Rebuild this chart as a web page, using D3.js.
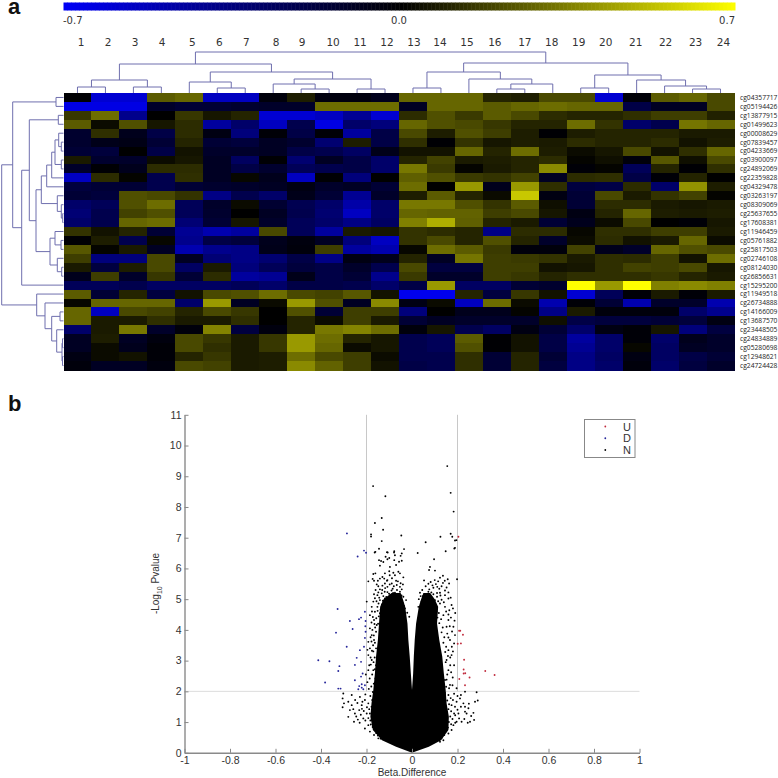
<!DOCTYPE html>
<html><head><meta charset="utf-8">
<style>html,body{margin:0;padding:0;background:#fff}svg{display:block}</style>
<script src="https://cdn.jsdelivr.net/npm/d3@7"></script></head>
<body><svg id="c" width="778" height="778"></svg>
<script>
const columnLabels=["1","2","3","4","5","6","7","8","9","10","11","12","13","14","15","16","17","18","19","20","21","22","23","24"];
const rowLabels=["cg04357717","cg05194426","cg13877915","cg01499623","cg00008629","cg07839457","cg04233669","cg03900097","cg24892069","cg22359828","cg04329478","cg03263197","cg08309069","cg25637655","cg17608381","cg11946459","cg05761882","cg25817503","cg02746108","cg08124030","cg26856631","cg15295200","cg11949518","cg26734888","cg14166009","cg13687570","cg23448505","cg24834889","cg05280698","cg12948621","cg24724428"];
const heatValues=[
[-.01,-.6,-.6,.25,.28,-.55,-.55,-.03,.08,-.04,-.04,-.08,.28,.28,.28,.1,.08,.2,.2,-.6,-.02,.25,.28,.2],
[-.65,-.65,-.65,-.12,-.15,-.15,-.13,-.12,-.12,.3,.3,.3,-.1,.28,.28,.25,.28,.3,.28,.28,-.2,-.1,-.1,.2],
[.15,.3,-.4,0,.15,.06,.1,-.6,-.6,-.55,-.42,-.6,.12,.22,.16,.25,.2,.12,.1,.1,.13,.17,.17,.09],
[.25,.03,.22,.06,.12,-.45,-.3,-.55,-.22,-.65,-.3,-.35,.28,.22,.2,.15,.1,.1,.3,.14,-.3,-.22,.32,.28],
[-.13,.13,-.08,-.2,.12,-.05,-.35,-.02,-.2,-.02,-.45,-.2,.2,.08,.22,.17,.08,-.01,.08,.1,.1,.1,.07,.07],
[-.13,-.07,-.06,-.15,.1,-.15,-.17,-.1,-.13,-.32,.08,-.2,.13,-.01,.14,.06,.08,.07,.12,.1,.1,.12,.05,.08],
[-.15,-.17,0,-.2,.05,-.12,-.12,-.1,-.2,-.22,-.28,-.07,.05,.05,.28,.1,.3,.08,.03,.06,.2,.05,.13,.28],
[.07,-.13,-.12,.03,.06,-.1,-.27,-.01,-.32,-.1,-.2,-.3,.1,.18,.07,.08,.1,.12,.01,.04,-.03,.24,.04,.2],
[-.12,-.01,-.08,.12,.12,-.1,-.2,-.13,-.25,-.22,-.2,-.3,.33,.16,.01,.07,.1,.38,-.02,.01,-.25,.1,-.01,.13],
[-.55,.12,.01,-.22,.13,-.1,.02,-.08,-.55,-.01,-.35,0,.26,.22,.16,.14,.18,-.1,.12,.13,-.2,-.02,.1,0],
[-.18,-.15,-.15,-.22,-.15,-.13,-.12,-.1,-.05,-.12,-.1,-.15,.3,0,.42,-.08,.42,.13,-.18,-.2,.12,-.3,.4,.08],
[-.15,-.17,.22,.2,.14,-.38,-.22,-.3,-.07,-.15,-.42,-.12,.08,.25,.1,.03,.55,-.05,-.15,.2,.07,.14,.18,.01],
[-.3,-.25,.22,.3,-.25,-.12,.03,-.14,-.23,-.3,-.48,-.3,.33,.33,.22,.14,.25,.04,-.15,.12,.12,.07,.06,.07],
[-.33,-.22,.18,.22,-.25,-.13,0,-.1,-.22,-.32,-.55,-.3,.28,.27,.27,.17,.2,.06,-.05,.1,.28,.08,.07,.08],
[-.3,-.22,.28,.3,-.33,-.15,.06,-.12,-.25,-.3,-.38,-.28,.35,.48,.26,.1,.07,-.15,-.08,.03,.2,0,-.02,.06],
[.14,.05,.1,-.15,-.42,-.5,-.45,.2,-.25,-.45,.07,.06,.14,.12,.1,-.38,.12,.12,.02,.13,.13,.17,.17,.07],
[-.01,.08,-.22,.02,-.4,-.2,-.17,-.08,-.04,-.1,-.35,-.55,.14,.2,.1,.22,.1,-.12,.03,.12,.05,.07,.28,.03],
[.24,.01,.07,-.1,-.5,-.4,-.38,-.07,-.03,.17,-.45,-.5,.02,.3,.25,.16,-.03,-.03,.18,-.08,-.12,.28,.22,.2],
[.17,-.35,-.35,.2,-.1,-.33,-.38,-.32,-.2,-.38,-.05,-.08,.1,-.1,.32,.17,.16,.14,.07,.13,.12,.17,.05,.3],
[.07,-.18,.08,.2,-.28,.07,-.35,-.25,-.17,-.2,-.12,-.22,.2,-.18,-.18,.17,.17,.05,.06,.13,.18,.17,.2,.06],
[-.08,.17,-.12,.15,-.15,.12,-.45,-.42,-.07,-.2,-.15,-.4,.16,-.12,-.12,.17,.15,.1,.13,.13,.13,.15,.1,.07],
[-.25,-.25,-.22,-.28,-.28,-.28,-.25,-.3,-.2,-.2,-.22,-.3,-.2,.42,-.28,-.28,-.15,-.13,.7,.42,.7,.35,.38,.35],
[.25,-.15,.1,-.18,.05,.2,.22,.3,.2,.18,.24,.05,-.68,-.68,.1,-.18,.15,.05,-.6,-.25,-.02,.07,-.02,.07],
[.02,.28,.28,.28,-.3,.42,-.1,.03,.42,.22,-.1,.38,-.06,.03,-.55,.3,.03,-.5,-.02,-.15,-.5,-.12,-.12,-.5],
[.28,-.55,.2,.18,.1,.2,.15,0,.22,-.15,.17,.17,-.35,0,-.08,-.08,.01,-.38,.07,-.03,-.03,-.03,-.3,-.4],
[.28,.07,.07,.13,.07,.07,.13,0,.1,.03,.17,.07,-.15,-.1,-.12,-.12,-.12,.04,-.2,-.17,-.17,-.15,-.17,-.05],
[-.3,.07,.33,-.12,-.03,.36,-.18,-.04,.1,.33,.36,.3,-.03,.06,-.22,-.28,-.05,-.15,-.3,-.05,-.02,.06,-.35,-.18],
[-.1,.08,-.1,-.04,.2,.15,.07,.15,.42,.3,.1,.06,-.22,-.25,.25,-.01,.05,-.2,-.45,-.3,-.02,-.3,-.08,-.12],
[-.1,.03,-.08,-.02,.2,.13,.07,.15,.42,.28,.03,.06,-.22,-.25,.22,-.01,.05,-.2,-.42,-.3,.02,-.28,-.1,-.12],
[-.05,.03,.05,-.02,.1,.15,.07,.08,.3,.2,.17,.03,-.22,-.22,.13,-.15,.1,-.15,-.38,-.28,-.05,-.28,-.2,-.15],
[-.03,-.1,-.1,-.04,.2,.18,.07,.08,.38,.27,.17,.05,-.2,-.22,.13,-.15,.1,-.18,-.38,-.3,-.03,-.3,-.18,-.12]];
const colourStops=[-0.7,0,0.7];
// Dendrograms: [height,left,right], leaves are 1-based indexes
const columnTree=[41,[29,[13,[6,1,2],[6,3,4]],[21,[11,5,[5,6,7]],[14,[9,8,[4,9,10]],[4,11,12]]]],[30,[21,[5,13,14],[14,15,[9,[4,16,17],18]]],[18,[5,19,20],[13,21,[7,22,[4,23,24]]]]]];
const rowTree=[61.8,[50.8,[7.5,1,2],[41.8,[34.2,[5.2,3,4],[27.5,[22.2,[16.8,[11.8,[8.5,[4.8,5,[2.2,6,7]],[2.2,8,9]],10],11],[6.2,12,[2.2,13,[.8,14,15]]]],[13.5,[8.5,16,[2.5,17,18]],[6.2,19,[1.8,20,21]]]]],22]],[26.8,23,[18.5,24,[11.8,[3.5,25,26],[6.8,27,[1.5,[1,28,29],[1,30,31]]]]]]];

const xTicks=[-1,-0.8,-0.6,-0.4,-0.2,0,0.2,0.4,0.6,0.8,1];
const yTicks=[0,1,2,3,4,5,6,7,8,9,10,11];
// Solid part of the volcano: y, then left outer/inner and right inner/outer edge
const denseY=[0,.2,.41,.74,1.17,1.61,2.04,2.58,3.13,3.67,4.21,4.75,5.0,5.2];
const denseLeftOuter=[0,-.07,-.132,-.172,-.183,-.178,-.17,-.163,-.158,-.15,-.145,-.14,-.125,-.09];
const denseLeftInner=[0,0,0,0,0,0,0,-.005,-.01,-.016,-.02,-.03,-.04,-.05];
const denseRightInner=[0,0,0,0,0,0,0,.005,.008,.012,.018,.03,.04,.05];
const denseRightOuter=[0,.074,.128,.16,.162,.152,.148,.14,.133,.12,.11,.115,.10,.08];
const upPoints=[[.207,3.97],[.212,3.97],[.224,3.84],[.201,3.55],[.215,3.56],[.229,3.03],[.227,2.71],[.227,2.58],[.234,2.59],[.253,2.45],[.208,2.40],[.233,2.2],[.322,2.66],[.363,2.53],[.204,7.03]];
const downPoints=[[-.327,4.68],[-.273,4.29],[-.261,4.03],[-.334,3.91],[-.287,3.45],[-.412,3.01],[-.363,2.98],[-.319,2.82],[-.324,2.66],[-.382,2.29],[-.324,2.09],[-.314,2.09],[-.251,2.86],[-.243,3.09],[-.229,3.34],[-.211,3.45],[-.224,4.40],[-.233,4.35],[-.207,4.59],[-.204,4.29],[-.205,4.12],[-.204,3.94],[-.207,3.74],[-.224,2.96],[-.217,2.58],[-.224,2.48],[-.251,2.36],[-.221,2.23],[-.236,2.07],[-.221,2.12],[-.214,2.07],[-.207,2.2],[-.232,2.17],[-.286,7.14],[-.211,6.58],[-.202,6.51],[-.239,6.39]];
const nonSigPoints=[[.155,9.33],[-.171,8.68],[.170,8.46],[-.117,8.35],[.183,7.85],[-.133,7.64],[-.163,7.48],[-.127,7.26],[-.180,7.11],[-.180,7.04],[-.047,7.07],[.170,7.13],[.125,7.03],[.177,7.03],[.189,6.91],[.195,6.92],[-.133,6.89],[.060,6.85],[.186,6.65],[.189,6.67],[.148,6.56],[-.035,6.63],[-.045,6.49],[-.050,6.41],[-.078,6.56],[-.079,6.52],[-.075,6.43],[-.110,6.53],[-.107,6.52],[-.164,6.52],[-.161,6.54],[-.145,6.64],[.025,6.50],[.097,6.30],[.079,6.05],[.075,5.95],[.101,5.93],[.136,5.76],[.123,5.70],[.157,5.65],[.198,5.65],[.053,5.61],[.082,5.56],[.105,5.49],[.111,5.40],[.136,5.53],[.163,5.51],[.076,5.32],[.094,5.37],[.152,5.38],
[-.145,6.27],[-.136,6.24],[-.126,6.21],[-.141,6.09],[-.116,6.38],[-.108,6.30],[-.100,6.34],[-.078,6.27],[-.057,6.22],[-.045,6.25],[-.070,6.11],[-.097,6.05],[-.119,5.84],[-.100,5.91],[-.082,5.86],[-.170,5.82],[-.161,5.84],[-.173,5.66],[-.167,5.60],[-.192,5.58],[-.141,5.67],[-.122,5.67],[-.108,5.62],[-.075,5.78],[-.060,5.89],[-.053,5.84],[-.038,5.71],[-.070,5.60],[-.089,5.51],[-.119,5.51],[-.155,5.48],[-.141,5.32],[-.108,5.40],[-.067,5.46],[-.053,5.40],[-.045,5.32],[-.085,5.34],
[-.167,5.16],[-.152,5.13],[-.133,5.19],[-.108,5.23],[-.097,5.13],[-.075,5.21],[-.053,5.24],[-.119,5.02],[-.141,4.97],[-.170,4.92],[-.089,4.99],[-.060,5.02],[-.038,5.08],[-.026,4.97],[-.199,4.92],[-.152,4.75],[-.177,4.75],[-.163,4.59],[-.141,4.54],[-.108,4.81],[-.082,4.75],[-.053,4.81],[-.031,4.70],[-.021,4.56],[-.012,4.43],[-.185,4.48],[-.167,4.32],[-.155,4.16],[-.185,4.05],[-.177,3.83],[-.192,3.61],[-.185,3.40],[-.167,3.67],[-.158,3.40],[-.192,3.18],[-.177,3.02],[-.158,2.85],[-.170,2.69],[-.192,2.69],[-.148,2.48],
[.035,5.21],[.057,5.08],[.072,5.24],[.094,5.16],[.123,5.21],[.145,5.13],[.160,5.02],[.174,4.81],[.164,4.64],[.145,4.75],[.123,4.86],[.101,4.97],[.086,4.81],[.064,4.84],[.042,4.92],[.028,4.75],[.108,4.59],[.138,4.48],[.160,4.32],[.182,4.10],[.189,3.83],[.152,4.10],[.167,3.67],[.185,3.56],[.160,3.34],[.174,3.18],[.152,3.02],[.185,2.85],[.160,2.69],[.179,2.45],[.145,2.37],[.167,2.21],[.196,2.10],
[-.302,1.93],[-.305,1.77],[-.299,1.61],[-.305,1.48],[-.280,1.66],[-.265,1.55],[-.273,1.39],[-.280,1.17],[-.251,1.28],[-.255,1.01],[-.232,1.39],[-.221,1.55],[-.207,1.72],[-.229,1.82],[-.265,1.88],[-.192,1.61],[-.199,1.28],[-.214,1.12],[-.177,1.07],[-.192,.90],[-.207,.79],[-.185,.69],[-.167,.58],[-.148,.47],
[.284,1.97],[.289,1.70],[.277,1.66],[.248,1.45],[.270,1.30],[.255,1.01],[.273,1.07],[.233,1.34],[.226,1.61],[.211,1.77],[.240,1.28],[.204,1.28],[.196,1.01],[.218,1.01],[.182,.90],[.174,.74],[.160,.63],[.138,.41],[.123,.36],[.233,1.50],[.189,1.50],[.196,1.66],[.174,1.55],[.233,1.99],
[-.182,3.1],[-.176,3.32],[-.171,3.5],[-.163,3.58],[-.168,3.82],[-.158,3.94],[-.162,4.08],[-.149,4.2],[-.157,4.38],[-.146,4.44],[-.151,4.62],[-.138,4.66],[-.147,4.86],[-.132,4.83],[-.128,4.95],[-.115,4.9],[-.105,4.96],[-.094,4.88],[-.086,5.06],[-.076,4.93],[-.069,5.1],[-.064,4.88],[-.052,4.95],[-.046,5.12],[-.041,4.86],[-.035,4.78],[-.144,5.05],[-.126,5.1],[-.113,5.07],[-.101,5.18],[-.09,5.28],[-.083,5.2],[-.066,5.3],[-.058,5.14],[-.131,5.3],[-.12,5.24],[-.148,5.22],[-.163,5.03],[-.156,4.93],[-.176,4.6],[-.172,4.42],[-.178,4.24],[-.165,4.19],[-.174,4.0],[-.182,3.76],[-.17,3.3],[-.164,3.1],[-.169,2.95],[-.181,2.87],[-.163,2.72],[-.175,2.55],[-.186,2.42],[-.161,2.42],[-.168,2.25],[-.179,2.16],[-.19,2.08],[-.172,1.98],[-.183,1.85],[-.175,1.72],[-.188,1.42],[-.178,1.5],[-.198,1.48],[-.185,1.28],[-.175,1.32],[-.192,1.13],[-.183,1.05],[-.181,.92],[-.173,.84],[-.165,.76],[-.157,.64],[-.15,.56],[-.138,.46],[-.212,1.36],[-.225,1.24],[-.205,1.05],[-.238,1.08],[-.218,1.66],[-.205,1.9],[-.196,2.3],[-.203,2.55],[-.188,2.85],[-.196,3.35],[-.178,3.62],
[.158,3.15],[.146,3.28],[.15,3.45],[.138,3.58],[.142,3.76],[.155,3.88],[.13,3.92],[.135,4.08],[.12,4.22],[.128,4.35],[.112,4.4],[.118,4.55],[.098,4.52],[.103,4.72],[.086,4.62],[.09,4.9],[.075,4.78],[.068,4.95],[.055,4.72],[.049,4.87],[.04,4.7],[.047,5.1],[.062,5.15],[.08,5.05],[.085,5.22],[.11,5.08],[.115,4.93],[.13,4.98],[.14,4.9],[.15,4.6],[.16,4.5],[.171,4.4],[.166,4.12],[.176,3.95],[.16,3.75],[.175,3.45],[.168,3.1],[.148,2.95],[.168,2.85],[.155,2.55],[.172,2.62],[.152,2.38],[.163,2.1],[.15,2.15],[.178,2.2],[.145,1.95],[.16,1.88],[.17,1.78],[.185,1.92],[.155,1.7],[.163,1.58],[.18,1.72],[.16,1.42],[.172,1.35],[.185,1.28],[.168,1.18],[.178,1.1],[.162,1.0],[.172,.93],[.158,.82],[.15,.7],[.142,.58],[.13,.48],[.2,1.4],[.215,1.5],[.19,1.22],[.207,1.12],[.19,.98],[.2,1.85],[.215,1.88],
[-.16,5.3],[-.148,5.42],[-.13,5.44],[-.118,5.36],[-.098,5.48],[-.08,5.42],[-.062,5.58],[-.05,5.52],[-.11,5.6],[-.13,5.72],[-.088,5.68],[-.15,5.6],[-.098,5.78],[-.04,5.48],[.045,5.3],[.06,5.42],[.09,5.45],[.12,5.34],[.13,5.42],[.145,5.28],[.16,5.22],[.072,5.5],[.1,5.62],[.115,5.58],[.144,5.6],[.03,5.0],[.038,5.1],[.11,5.2],[.125,5.12],[.17,5.05],[.18,4.7],[.19,4.55],[.187,4.3],[.18,3.3],
[-.24,1.62],[-.25,1.72],[-.258,1.42],[-.245,1.18],[-.22,1.43],[-.23,.98],[.25,1.6],[.26,1.2],[.245,.98],[.23,1.1]];
const legendLabels=["U","D","N"];

const svg=d3.select("#c");
const HEAT={l:63.5,r:734.5,t:93,b:370};
const x=d3.scaleBand().domain(d3.range(24)).range([HEAT.l,HEAT.r]);
const y=d3.scaleBand().domain(d3.range(31)).range([HEAT.t,HEAT.b]);
const colour=d3.scaleLinear().domain(colourStops).range(["#0000f5","#000000","#ffff00"]);

// colour bar
const barX=d3.scaleLinear().domain([-0.7,0.7]).range([63.5,735]);
svg.append("g").selectAll("rect").data(d3.range(-0.7,0.7,1.4/168)).join("rect")
 .attr("x",d=>barX(d)).attr("y",2.5).attr("width",4.5).attr("height",8).attr("fill",d=>colour(d));
const numberFont="'DejaVu Sans',sans-serif";
[["-0.7",63,"start"],["0.0",399,"middle"],["0.7",735,"end"]].forEach(([t,px,a])=>
 svg.append("text").attr("x",px).attr("y",24).attr("text-anchor",a).attr("font-family",numberFont).attr("font-size",10).attr("fill","#333").text(t));

// column numbers (drawn slightly off the column centres in the reference)
const labelNudge=[3.5,2.6,1.6,.7,3,2,1,3,1,4,3,2,1,-1,-2,-2,0,-1,-2,-3,-1,1,3,3];
svg.append("g").selectAll("text").data(columnLabels).join("text")
 .attr("x",(d,i)=>x(i)+x.bandwidth()/2+labelNudge[i]).attr("y",45.5).attr("text-anchor","middle")
 .attr("font-family",numberFont).attr("font-size",10.5).attr("fill","#333").text(d=>d);

// heatmap
const cells=[];heatValues.forEach((r,ri)=>r.forEach((v,ci)=>cells.push({ri,ci,v})));
svg.append("g").attr("shape-rendering","crispEdges").selectAll("rect").data(cells).join("rect")
 .attr("x",d=>x(d.ci)).attr("y",d=>y(d.ri)).attr("width",x.bandwidth()+.5).attr("height",y.bandwidth()+.5)
 .attr("fill",d=>colour(d.v));

// row labels
svg.append("g").selectAll("text").data(rowLabels).join("text")
 .attr("x",740).attr("y",(d,i)=>y(i)+y.bandwidth()/2+2.4)
 .attr("font-family","'Open Sans',sans-serif").attr("font-size",6.7).attr("fill","#222").text(d=>d);

// dendrograms
const treeColour="#6f6fae";
function walk(node,leafPos,heightPos,segs){
 if(typeof node==="number")return {p:leafPos(node-1),h:heightPos(0)};
 const a=walk(node[1],leafPos,heightPos,segs),b=walk(node[2],leafPos,heightPos,segs);
 const h=heightPos(node[0]);
 segs.push([[a.p,a.h],[a.p,h],[b.p,h],[b.p,b.h]]);
 return {p:(a.p+b.p)/2,h};
}
const colSegs=[];
walk(columnTree,i=>x(i)+x.bandwidth()/2,d3.scaleLinear().domain([0,41]).range([93,52]),colSegs);
const rowSegs=[];
walk(rowTree,i=>y(i)+y.bandwidth()/2,d3.scaleLinear().domain([0,61.8]).range([63.5,1.7]),rowSegs);
const lineH=d3.line();
svg.append("g").selectAll("path").data(colSegs).join("path").attr("d",lineH)
 .attr("fill","none").attr("stroke",treeColour).attr("stroke-width",1);
svg.append("g").selectAll("path").data(rowSegs).join("path").attr("d",s=>lineH(s.map(p=>[p[1],p[0]])))
 .attr("fill","none").attr("stroke",treeColour).attr("stroke-width",1);

// panel letters
[["a",8,14],["b",8,411]].forEach(([t,px,py])=>svg.append("text").attr("x",px).attr("y",py)
 .attr("font-family","'Liberation Sans',sans-serif").attr("font-weight","bold").attr("font-size",22).attr("fill","#111").text(t));

// volcano
const vx=d3.scaleLinear().domain([-1,1]).range([184.5,639.5]);
const vy=d3.scaleLinear().domain([0,11]).range([752.8,414.8]);
const g=svg.append("g");
g.append("path").attr("d",d3.line()([[vx(-1),vy(2)],[vx(1),vy(2)]])).attr("stroke","#dcdcdc").attr("fill","none");
[-0.2,0.2].forEach(v=>g.append("path").attr("d",d3.line()([[vx(v),vy(11)],[vx(v),vy(2)]])).attr("stroke","#c8c8c8").attr("fill","none"));

const dense=denseY.map((v,i)=>({y:v,lo:denseLeftOuter[i],li:denseLeftInner[i],ri:denseRightInner[i],ro:denseRightOuter[i]}));
const areaL=d3.area().y(d=>vy(d.y)).x0(d=>vx(d.lo)).x1(d=>vx(d.li));
const areaR=d3.area().y(d=>vy(d.y)).x0(d=>vx(d.ri)).x1(d=>vx(d.ro));
g.append("path").attr("d",areaL(dense)).attr("fill","#000");
g.append("path").attr("d",areaR(dense)).attr("fill","#000");
const drawPts=(pts,c)=>g.append("g").selectAll("circle").data(pts).join("circle")
 .attr("cx",d=>vx(d[0])).attr("cy",d=>vy(d[1])).attr("r",.95).attr("fill",c);
drawPts(nonSigPoints,"#000");
drawPts(downPoints,"#25259a");
drawPts(upPoints,"#c02a3c");

const axisFont="'Liberation Sans',sans-serif";
const xAxis=d3.axisBottom(vx).tickValues(xTicks).tickFormat(d=>d===0?"0":String(+d.toFixed(1))).tickSizeInner(-4).tickSizeOuter(0).tickPadding(4);
const yAxis=d3.axisLeft(vy).tickValues(yTicks).tickFormat(d3.format("d")).tickSizeInner(-4).tickSizeOuter(0).tickPadding(3);
const gx=svg.append("g").attr("transform","translate(0,752.8)").call(xAxis);
const gy=svg.append("g").attr("transform","translate(184.5,0)").call(yAxis);
[gx,gy].forEach(a=>{a.selectAll("path").attr("stroke","#8a8a8a").attr("stroke-width",1.4);
 a.selectAll("line").attr("stroke","#888");
 a.selectAll("text").attr("font-family",axisFont).attr("font-size",10.5).attr("fill","#333");});
svg.append("text").attr("x",412).attr("y",775.5).attr("text-anchor","middle").attr("font-family",axisFont).attr("font-size",10).attr("fill","#333").text("Beta.Difference");
const yl=svg.append("text").attr("transform","translate(158.5,583.5) rotate(-90)").attr("text-anchor","middle").attr("font-family",axisFont).attr("font-size",10).attr("fill","#333");
yl.append("tspan").text("-Log");
yl.append("tspan").attr("font-size",7).attr("dy",3).text("10");
yl.append("tspan").attr("dy",-3).text(" Pvalue");

// legend
svg.append("rect").attr("x",584.5).attr("y",419.5).attr("width",50.5).attr("height",38).attr("fill","#fff").attr("stroke","#888").attr("stroke-width",1);
const legY=d3.scalePoint().domain(legendLabels).range([426.5,450]);
const legC={U:"#c02a3c",D:"#25259a",N:"#000"};
legendLabels.forEach(l=>{
 svg.append("circle").attr("cx",605.3).attr("cy",legY(l)).attr("r",.9).attr("fill",legC[l]);
 svg.append("text").attr("x",627).attr("y",legY(l)+4).attr("text-anchor","middle").attr("font-family",axisFont).attr("font-size",11).attr("fill","#333").text(l);
});
</script></body></html>
